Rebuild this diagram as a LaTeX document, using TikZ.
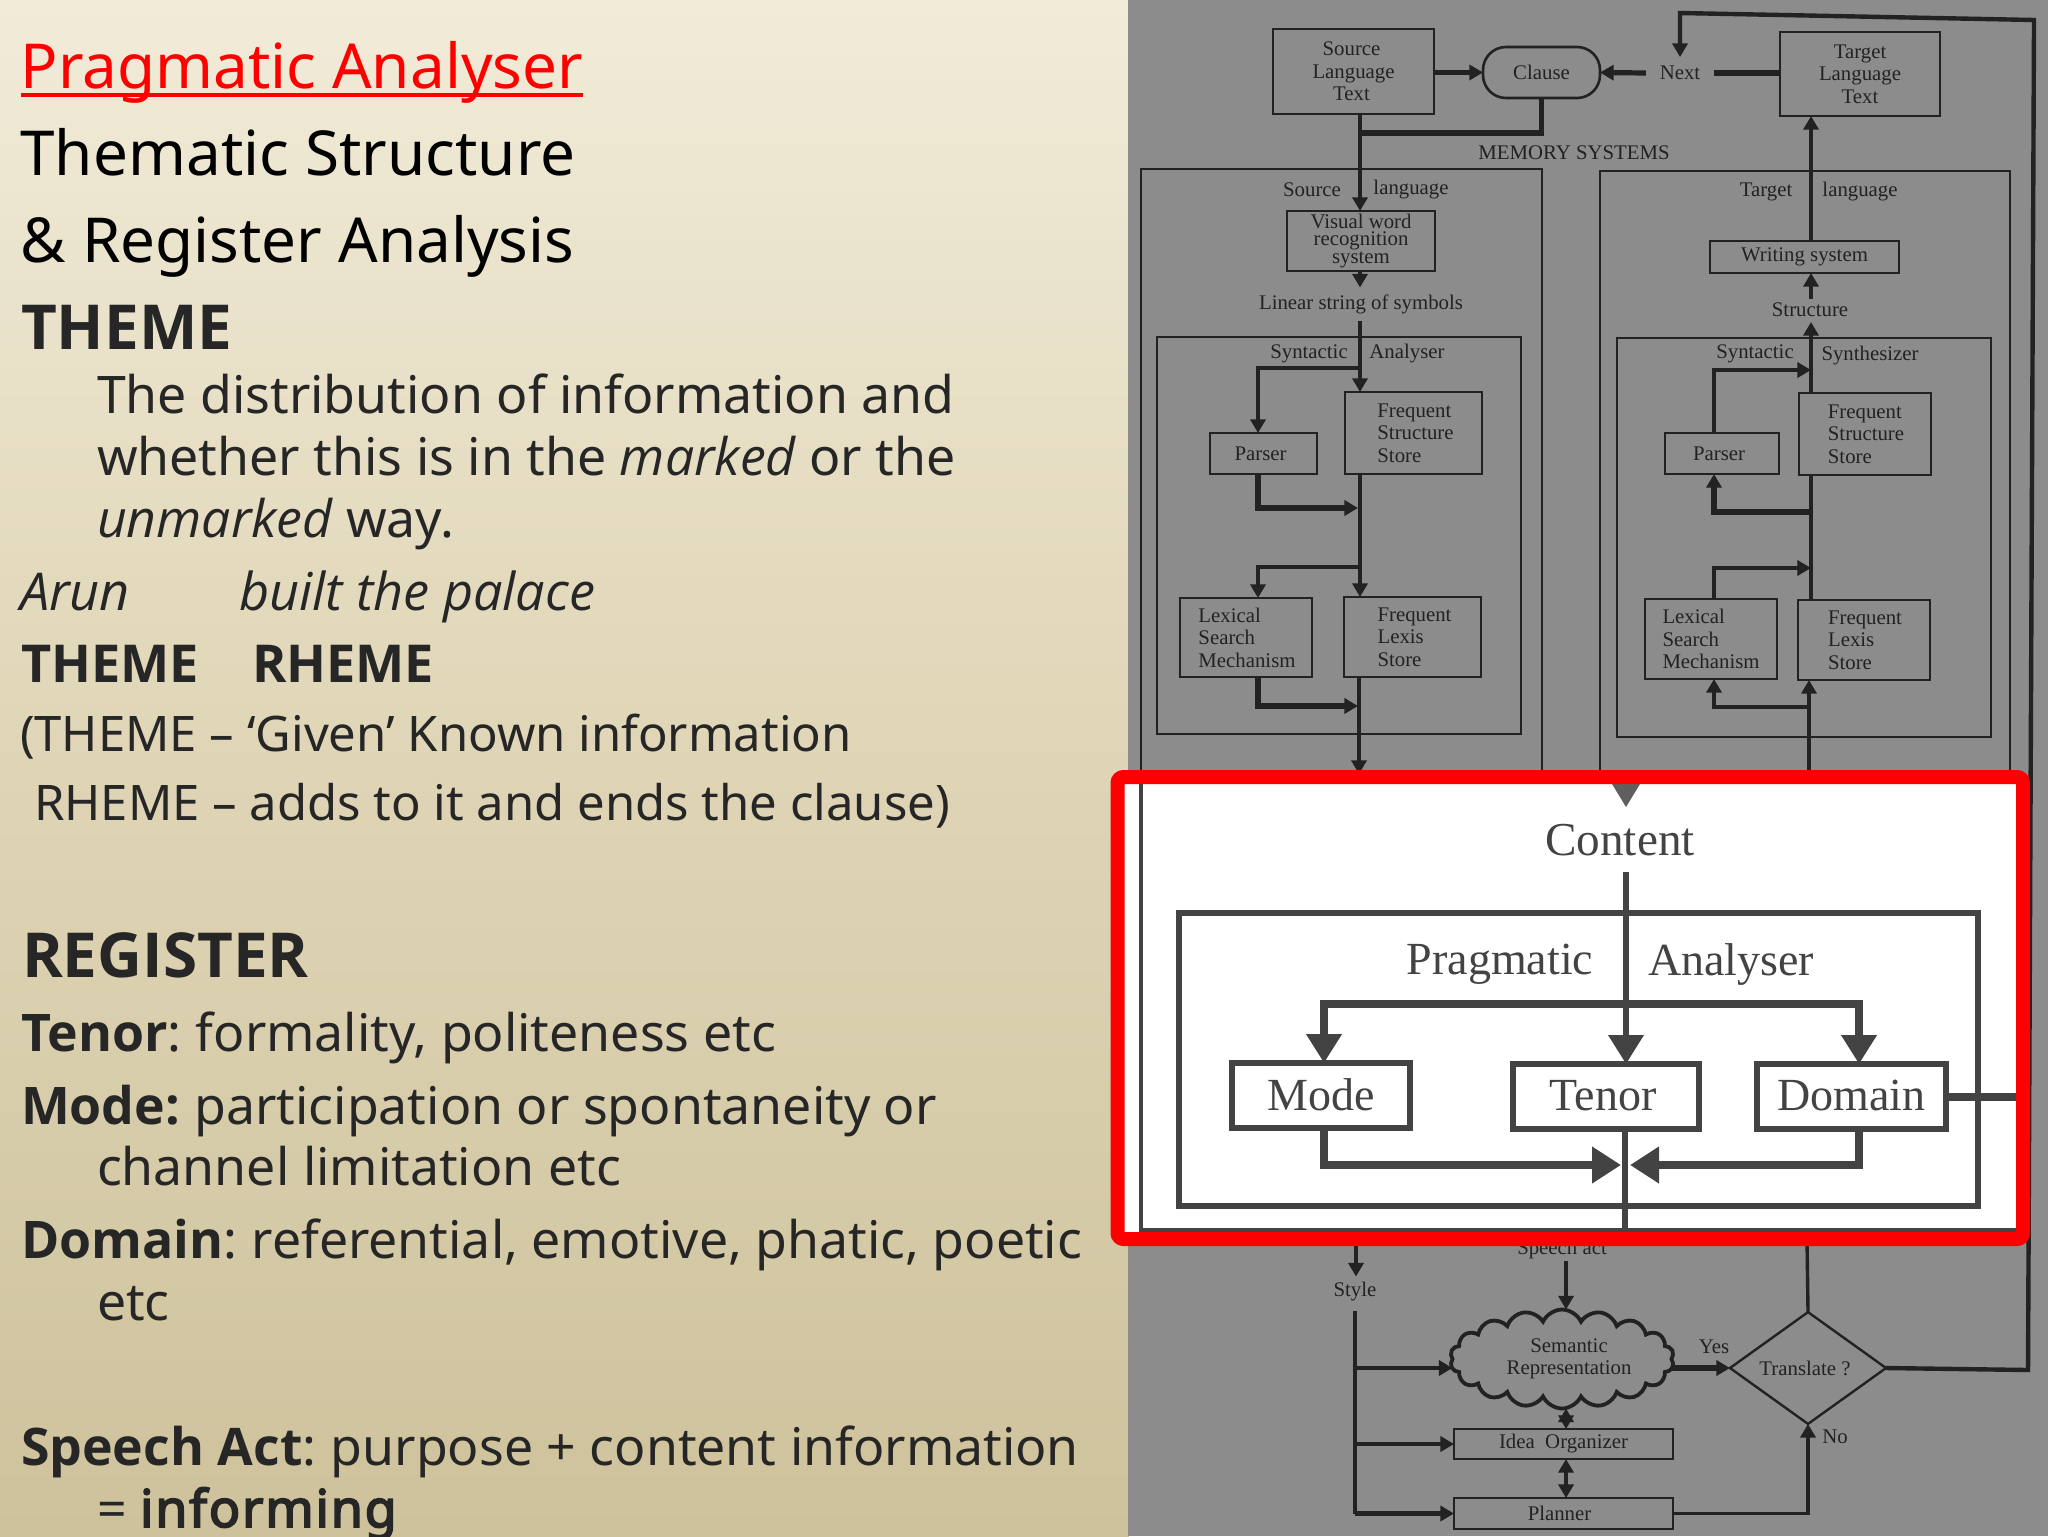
\documentclass[tikz,border=0pt]{standalone}
\usepackage{fontspec}
\usetikzlibrary{arrows.meta,shapes.geometric,shapes.symbols,calc}
\setmainfont{Noto Sans}
\newfontfamily\tms{Liberation Serif}
\newfontfamily\osf{Open Sans}
\newfontfamily\nfb{Noto Sans}[FakeBold=3.4,LetterSpace=3.6]
\newcommand{\bb}[1]{{\osf\bfseries #1}}
\newcommand{\iit}[1]{{\osf\itshape #1}}
\newcommand{\tsp}{\hspace{7.2pt}}
\definecolor{ink}{HTML}{222222}
\definecolor{inkw}{HTML}{434343}
\definecolor{panel}{HTML}{8C8C8C}
\definecolor{bodyink}{HTML}{262626}
\definecolor{creamc}{HTML}{F1EBD8}
\definecolor{midsand}{HTML}{DFD5B6}
\definecolor{sandc}{HTML}{CEC29C}
\newcommand{\sz}[1]{\fontsize{#1}{#1}\selectfont}
\newcommand{\mybox}[7][]{\node[bx,#1,minimum width={(#5-#3)*0.5pt},minimum height={(#6-#4)*0.5pt}] (#2) at ({(#3+#5)/2},{(#4+#6)/2}) {#7};}
\tikzset{
  tx/.style={anchor=base west,inner sep=0pt,outer sep=0pt,text=bodyink},
  head/.style={tx,font=\sz{31}},
  bodyt/.style={tx,font=\sz{25.9}},
  small/.style={tx,font=\sz{24.5}},
  ital/.style={tx,font=\sz{26.1}},
  bx/.style={draw=ink,line width=1.3pt,inner sep=0pt,outer sep=0pt,align=left,text=ink,font=\tms\fontsize{10.4}{11.3}\selectfont},
  lab/.style={inner sep=0pt,outer sep=0pt,text=ink,font=\tms\fontsize{10.4}{11.3}\selectfont},
  conn/.style={draw=ink,line width=1.7pt},
  thk/.style={draw=ink,line width=2.6pt},
  wbx/.style={bx,draw=inkw,line width=2.7pt,text=inkw,font=\tms\fontsize{23}{23}\selectfont},
  wlab/.style={inner sep=0pt,outer sep=0pt,text=inkw,font=\tms\fontsize{23}{23}\selectfont},
  wconn/.style={draw=inkw,line width=3.4pt},
  wthk/.style={draw=inkw,line width=4.2pt},
  >={Triangle[width=7.5pt,length=6.8pt]},
  bigtip/.style={-{Triangle[width=17pt,length=14.5pt]}},
}
\begin{document}
\begin{tikzpicture}[x=0.5pt,y=-0.5pt]
\useasboundingbox (0,0) rectangle (2048,1536);
% backgrounds
\shade[top color=creamc,bottom color=sandc,middle color=midsand] (0,0) rectangle (1129,1536);
\fill[panel] (1128,0) rectangle (2048,1536);
% left column
\node[head,text=red] (t1) at (20.5,89) {Pragmatic Analyser};
\draw[red,line width=2pt] ($(t1.base west)+(0,6)$) -- ($(t1.base east)+(0,6)$);
\node[head,text=black] (t2) at (20.5,175) {Thematic Structure};
\node[head,text=black] (t3) at (20.5,262) {\& Register Analysis};
\node[head] (t4) at (21,349) {\bb{THEME}};
\node[bodyt] (t5) at (97,413) {The distribution of information and};
\node[bodyt] (t6) at (97,475) {whether this is in the \iit{marked} or the};
\node[bodyt] (t7) at (97,537) {\iit{unmarked} way.};
\node[ital] (t8) at (20,610) {\iit{Arun}};
\node[ital] (t9) at (239,610) {\iit{built the palace}};
\node[ital] (t10) at (21,682) {\bb{THEME}};
\node[ital] (t11) at (252,682) {\bb{RHEME}};
\node[small] (t12) at (20,751) {(THEME – ‘Given’ Known information};
\node[small] (t13) at (34,820) {RHEME – adds to it and ends the clause)};
\node[head] (t14) at (22,977) {\bb{REGISTER}};
\node[bodyt] (t15) at (21,1051) {\bb{Tenor}:\tsp formality, politeness etc};
\node[bodyt] (t16) at (21,1124) {\bb{Mode:}\tsp participation or spontaneity or};
\node[bodyt] (t17) at (97,1185) {channel limitation etc};
\node[bodyt] (t18) at (21,1258) {\bb{Domain}:\tsp referential, emotive, phatic, poetic};
\node[bodyt] (t19) at (97,1320) {etc};
\node[bodyt] (t20) at (21,1465) {\bb{Speech Act}:\tsp purpose + content information};
\node[bodyt] (t21) at (97,1527) {= {\nfb informing}};
% axes
\coordinate (axL) at (1360,0);
\coordinate (axP) at (1258,0);
\coordinate (axR) at (1811,0);
\coordinate (axQ) at (1714,0);
\coordinate (axS) at (1566,0);
% top row
\mybox[align=center]{srcT}{1273}{29}{1434}{114}{Source\hspace*{2pt}\\Language\hspace*{2pt}\\Text\hspace*{2pt}}
\mybox[align=center]{tgtT}{1780}{32}{1940}{116}{Target\\Language\\Text}
\node[bx,align=center,rounded corners=11.5pt,minimum width=58.5pt,minimum height=25.5pt] (clause) at (1541.5,72.5) {Clause};
\node[lab] (next) at (1680,73) {Next};
\node[lab] (mem) at (1574,153) {MEMORY SYSTEMS};
% memory boxes
\mybox{memL}{1141}{169}{1542}{1232}{}
\mybox{memR}{1600}{171}{2010}{1232}{}
\node[lab] (sl1) at (1312,190) {Source};
\node[lab] (sl2) at (1411,190) {language};
\node[lab] (tl1) at (1766,192) {Target};
\node[lab] (tl2) at (1860,192) {language};
\node[bx,align=center,minimum width=74pt,minimum height=30pt,font=\tms\fontsize{10.4}{8.8}\selectfont] (vw) at (1361,241) {\raisebox{-0.5pt}{Visual word}\\\raisebox{-0.5pt}{recognition}\\\raisebox{-0.5pt}{system}};
\node[lab] (lin) at (1361,304) {Linear string of symbols};
\mybox[align=center]{wr}{1710}{241}{1899}{273}{Writing system}
\node[lab] (st) at (1810,310) {Structure};
% syntactic boxes
\mybox{synL}{1157}{337}{1521}{734}{}
\mybox{synR}{1617}{338}{1991}{737}{}
\node[lab] (sa1) at (1309,354) {Syntactic};
\node[lab] (sa2) at (1407,354) {Analyser};
\node[lab] (ss1) at (1755,354) {Syntactic};
\node[lab] (ss2) at (1870,356) {Synthesizer};
\mybox[align=center]{parL}{1210}{433}{1317}{474}{Parser\hspace*{3pt}}
\mybox{fssL}{1345}{392}{1482}{474}{\hspace*{2pt}Frequent\\\hspace*{2pt}Structure\\\hspace*{2pt}Store}
\mybox{lexL}{1180}{598}{1312}{677}{\hspace*{1pt}Lexical\\\hspace*{1pt}Search\\\hspace*{1pt}Mechanism}
\mybox{flsL}{1344}{597}{1481}{677}{\hspace*{2pt}Frequent\\\hspace*{2pt}Lexis\\\hspace*{2pt}Store}
\mybox[align=center]{parR}{1665}{433}{1779}{474}{Parser\hspace*{3pt}}
\mybox{fssR}{1799}{393}{1931}{475}{\hspace*{1pt}Frequent\\\hspace*{1pt}Structure\\\hspace*{1pt}Store}
\mybox{lexR}{1645}{599}{1777}{679}{Lexical\\Search\\Mechanism}
\mybox{flsR}{1798}{600}{1930}{680}{\hspace*{1pt}Frequent\\\hspace*{1pt}Lexis\\\hspace*{1pt}Store}
% top connectors
\draw[thk,->] (srcT.east |- clause.west) -- (clause.west);
\draw[thk,->] ($(next.west)+(-14,0)$) -- (clause.east);
\draw[thk] (tgtT.west |- next.east) -- ($(next.east)+(14,0)$);
\coordinate (jc) at (1361,133);
\draw[thk] (clause.south) |- (jc);
\draw[conn,->] (srcT.south -| axL) -- (vw.north -| axL);
\draw[conn,->] (vw.south -| axL) -- ($(lin.north -| axL)+(0,-7)$);
\coordinate (b1) at (1360,368);
\draw[conn,line width=2.2pt,->] (b1) -| (parL.north -| axP);
\coordinate (b2) at (1358,508);
\draw[thk,->] (parL.south -| axP) |- (b2);
\draw[conn,->] ($(lin.south -| axL)+(0,7)$) -- (fssL.north -| axL);
\draw[conn,->] (fssL.south -| axL) -- (flsL.north -| axL);
\coordinate (b3) at (1360,567);
\draw[conn,line width=2.2pt,->] (b3) -| (lexL.north -| axP);
\coordinate (b4) at (1358,706);
\draw[thk,->] (lexL.south -| axP) |- (b4);
\coordinate (c0) at (1359,774);
\draw[conn,->] (flsL.south -| c0) -- (c0);
% right column connectors
\draw[conn,->] (wr.north -| axR) -- (tgtT.south -| axR);
\draw[conn,->] ($(st.north -| axR)+(0,-4)$) -- (wr.south -| axR);
\coordinate (sup) at (1811,322);
\draw[conn,->] (fssR.north -| axR) -- (sup);
\coordinate (r1) at (1811,370);
\draw[conn,line width=2.2pt,->] (parR.north -| axQ) |- (r1);
\draw[conn] (fssR.south -| axR) -- (flsR.north -| axR);
\coordinate (r2) at (1811,512);
\draw[thk,->] (r2) -| (parR.south -| axQ);
\coordinate (r3) at (1811,568);
\draw[conn,line width=2.2pt,->] (lexR.north -| axQ) |- (r3);
\coordinate (r4) at (1809,707);
\draw[conn,line width=2.2pt,->] (r4) -| (lexR.south -| axQ);
\coordinate (r5) at (1809,775);
\draw[conn,->] (r5) -- (flsR.south -| r5);
% lower part
\node[lab] (style) at (1355,1292) {Style};
\node[lab] (speech) at (1562,1249) {Speech act};
\node[cloud,draw=ink,line width=1.9pt,cloud puffs=18,cloud puff arc=130,aspect=2.5,inner sep=0pt,outer sep=0pt,minimum width=112pt,minimum height=41pt,align=center,text=ink,font=\tms\fontsize{10.4}{11.2}\selectfont] (cl) at (1562,1359) {\hspace*{7pt}Semantic\\\hspace*{7pt}Representation};
\node[diamond,draw=ink,line width=1.2pt,inner sep=0pt,outer sep=0pt,minimum width=78pt,minimum height=54pt,text=ink,font=\tms\fontsize{10.4}{11.3}\selectfont] (tr) at (1808,1368) {Translate ?\hspace*{3pt}};
\mybox[align=center]{idea}{1454}{1429}{1673}{1459}{Idea\ \ Organizer}
\mybox[align=center]{plan}{1454}{1498}{1673}{1529}{Planner\hspace*{4pt}}
\node[lab] (yes) at (1714,1347) {Yes};
\node[lab] (no) at (1835,1437) {No};
\coordinate (d0) at (1356,1240);
\draw[conn,->] (d0) -- ($(style.north -| d0)+(0,-6)$);
\coordinate (sty) at (1355,1311);
\draw[conn] (sty) -- (sty |- plan.west);
\draw[conn,line width=2.4pt,->] (sty |- tr.west) -- (cl.west |- tr.west);
\draw[conn,line width=2.4pt,->] (sty |- idea.west) -- (idea.west);
\draw[conn,line width=2.4pt,->] (sty |- plan.west) -- (plan.west);
\draw[conn,->] ($(speech.south -| axS)+(0,3)$) -- (cl.north -| axS);
\draw[conn,<->] (cl.south -| axS) -- (idea.north -| axS);
\draw[conn,<->] (idea.south -| axS) -- (plan.north -| axS);
\draw[thk,->] (cl.east |- tr.west) -- (tr.west);
\draw[conn,->] (plan.east) -| (tr.south);
\coordinate (d1) at (1807,1240);
\draw[conn] (tr.north) -- (d1);
\coordinate (loopA) at (2028,1370);
\coordinate (loopB) at (2034,20);
\coordinate (loopC) at (1680,13);
\draw[conn,line width=2.2pt,->] (tr.east) -- (loopA) -- (loopB) -- (loopC) -- ($(next.north)+(0,-9)$);
% white enlargement
\fill[white] (1124,784) rectangle (2016,1232);
\fill[inkw!85!white] (1612,784) -- (1640,784) -- (1626,807) -- cycle;
\node[wlab,font=\tms\fontsize{23.6}{24}\selectfont] (wc) at (1620,840) {Content};
\mybox[wbx]{prag}{1179}{913}{1978}{1206}{}
\node[wlab] (wp1) at (1500,964) {Pragmatic};
\node[wlab] (wp2) at (1731,964) {Analyser};
\mybox[wbx,align=center]{mode}{1232}{1063}{1410}{1128}{\raisebox{1pt}{Mode}}
\mybox[wbx,align=center]{tenor}{1513}{1064}{1699}{1129}{\raisebox{1pt}{Tenor}\hspace*{3pt}}
\mybox[wbx,align=center]{domain}{1757}{1064}{1946}{1129}{\raisebox{1pt}{Domain}}
\coordinate (wax) at (1626,0);
\coordinate (wml) at (1324,0);
\coordinate (wdl) at (1859,0);
\coordinate (wbar) at (1626,1004);
\coordinate (wjoinL) at (1621,1165);
\coordinate (wjoinR) at (1630,1165);
\coordinate (wbot) at (1625,1232);
\coordinate (wedge) at (2016,1097);
\draw[wconn,bigtip] ($(wc.south -| wax)+(0,16)$) -- (tenor.north -| wax);
\draw[wthk,bigtip] (wbar) -| (mode.north -| wml);
\draw[wthk,bigtip] (wbar) -| (domain.north -| wdl);
\draw[wconn] (tenor.south -| wbot) -- (wbot);
\draw[wthk,-{Triangle[width=17.5pt,length=14.5pt]}] (mode.south -| wml) |- (wjoinL);
\draw[wthk,-{Triangle[width=17.5pt,length=14.5pt]}] (domain.south -| wdl) |- (wjoinR);
\draw[wthk] (domain.east |- wedge) -- (wedge);
\draw[inkw,line width=1.8pt] (1141,784) -- (1141,1230) -- (2016,1230);
% red frame
\draw[red,line width=7pt,rounded corners=3pt] (1117.5,777) rectangle (2023,1239);
\end{tikzpicture}
\end{document}
